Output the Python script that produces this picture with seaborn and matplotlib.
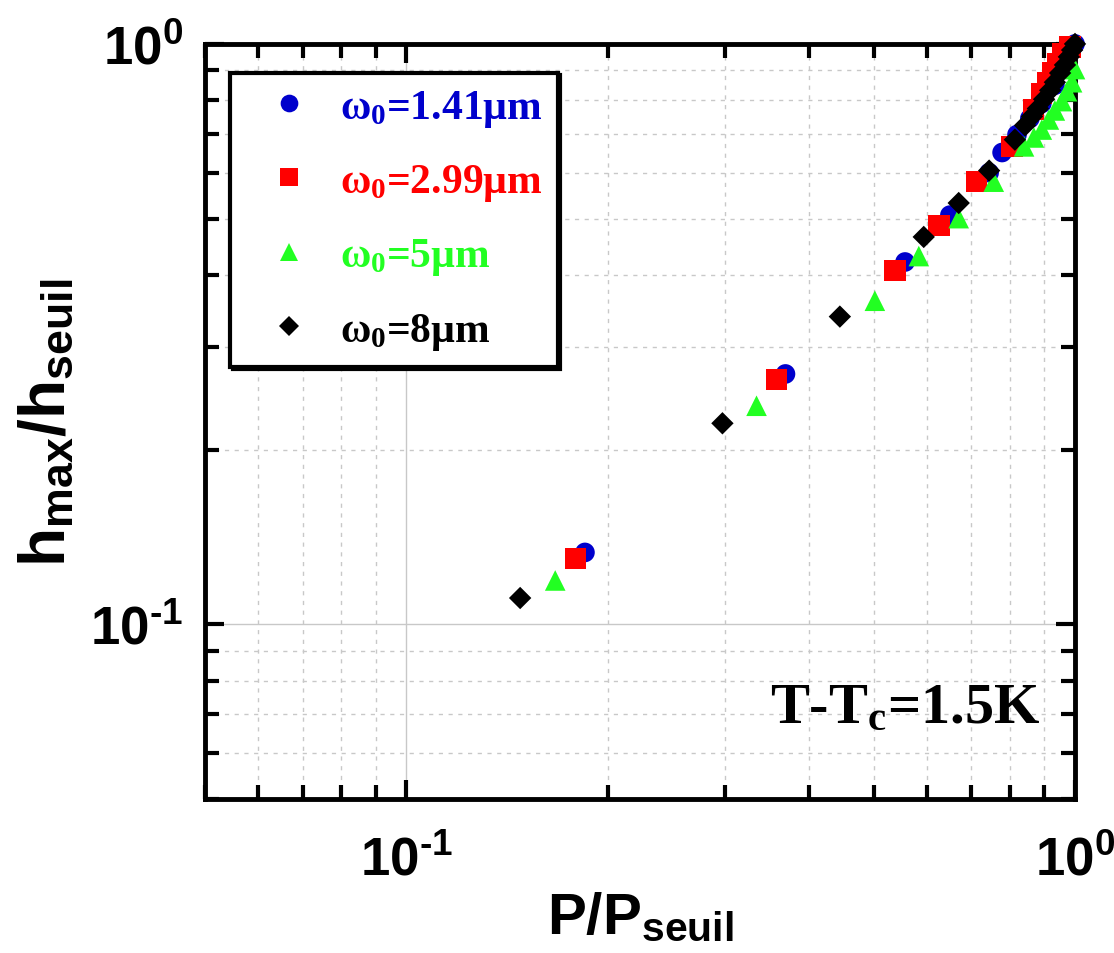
import numpy as np
import pandas as pd
import matplotlib
matplotlib.use('Agg')
import matplotlib.pyplot as plt
import matplotlib.ticker as mticker
from matplotlib import font_manager
import seaborn as sns

# values (P/P_seuil, h_max/h_seuil)
p_141 = [0.185, 0.369, 0.557, 0.650, 0.744, 0.778, 0.819, 0.856, 0.892, 0.933, 0.966, 1.0]
h_141 = [0.133, 0.270, 0.421, 0.507, 0.600, 0.650, 0.698, 0.744, 0.790, 0.849, 0.912, 1.0]

p_299 = [0.179, 0.358, 0.538, 0.626, 0.713, 0.805, 0.868, 0.892, 0.911, 0.927, 0.943, 0.959, 0.983]
h_299 = [0.130, 0.264, 0.407, 0.486, 0.579, 0.666, 0.772, 0.822, 0.859, 0.894, 0.927, 0.961, 0.988]

p_5 = [0.167, 0.334, 0.502, 0.584, 0.670, 0.756, 0.839, 0.868, 0.892, 0.914, 0.933, 0.956, 0.973, 0.990, 1.0]
h_5 = [0.119, 0.238, 0.361, 0.431, 0.501, 0.579, 0.666, 0.690, 0.712, 0.741, 0.768, 0.797, 0.829, 0.859, 0.905]

p_8 = [0.148, 0.297, 0.445, 0.594, 0.670, 0.744, 0.813, 0.842, 0.862, 0.880, 0.899, 0.918, 0.933, 0.950, 0.966, 0.979, 0.990, 1.0]
h_8 = [0.111, 0.222, 0.339, 0.465, 0.532, 0.605, 0.684, 0.724, 0.750, 0.774, 0.803, 0.832, 0.859, 0.891, 0.920, 0.950, 0.976, 1.0]

names = [r'$\mathrm{\omega_0}$=1.41µm', r'$\mathrm{\omega_0}$=2.99µm',
         r'$\mathrm{\omega_0}$=5µm', r'$\mathrm{\omega_0}$=8µm']
colors = ['#0000cc', '#ff0000', '#22ff22', '#000000']
marks = ['o', 's', '^', 'D']
msizes = [200, 230, 220, 130]

df = pd.concat([
    pd.DataFrame({'P': p, 'h': h, 'w': n})
    for p, h, n in zip([p_141, p_299, p_5, p_8], [h_141, h_299, h_5, h_8], names)
])

sns.set_theme(style='ticks')
installed = {f.name for f in font_manager.fontManager.ttflist}
sans = 'Liberation Sans Narrow' if 'Liberation Sans Narrow' in installed else 'Liberation Sans'
plt.rcParams['font.family'] = [sans, 'DejaVu Sans']
plt.rcParams['text.color'] = 'black'
plt.rcParams['axes.labelcolor'] = 'black'
plt.rcParams['mathtext.fontset'] = 'custom'
plt.rcParams['mathtext.rm'] = 'Liberation Serif:bold'
plt.rcParams['mathtext.it'] = 'Liberation Serif:bold'
plt.rcParams['mathtext.bf'] = 'Liberation Serif:bold'
plt.rcParams['mathtext.sf'] = sans + ':bold'
for a in ('xtick', 'ytick'):
    plt.rcParams[a + '.direction'] = 'in'
    plt.rcParams[a + '.major.size'] = 14
    plt.rcParams[a + '.minor.size'] = 10

fig = plt.figure(figsize=(11.14, 9.54), dpi=100)
ax = fig.add_axes([0.184, 0.1614, 0.781, 0.7915])

sns.scatterplot(data=df, x='P', y='h', hue='w', style='w', size='w',
                hue_order=names, style_order=names, size_order=names,
                palette=dict(zip(names, colors)), markers=dict(zip(names, marks)),
                sizes=dict(zip(names, msizes)), linewidth=0, clip_on=False,
                zorder=3, ax=ax)

ax.set_xscale('log')
ax.set_yscale('log')
ax.set_xlim(0.05, 1)
ax.set_ylim(0.05, 1)

def fmt(v, pos):
    e = int(round(np.log10(v)))
    return r'$\mathsf{10^{%s}}$' % (str(e).replace('-', '\u2010'))

for axis in (ax.xaxis, ax.yaxis):
    axis.set_major_locator(mticker.LogLocator(base=10, subs=(1.0,)))
    axis.set_minor_locator(mticker.LogLocator(base=10, subs=np.arange(2, 10)))
    axis.set_major_formatter(mticker.FuncFormatter(fmt))
    axis.set_minor_formatter(mticker.NullFormatter())
    axis.set_ticks_position('both')

ax.set_axisbelow(True)
ax.grid(which='major', color='#c8c8c8', lw=1, ls='-')
ax.grid(which='minor', color='#c8c8c8', lw=1, ls=(0, (3, 4)))

for sp in ax.spines.values():
    sp.set_linewidth(3.5)
    sp.set_color('black')
ax.tick_params(which='both', width=3, colors='black', labelsize=38)
ax.tick_params(axis='x', which='major', pad=26)
ax.tick_params(axis='y', which='major', pad=16)

ax.set_xlabel(r'P/P$_\mathsf{seuil}$', fontsize=42, fontweight='bold', labelpad=4)
ax.set_ylabel(r'h$_\mathsf{max}$/h$_\mathsf{seuil}$', fontsize=46, fontweight='bold', labelpad=8)

ax.text(0.96, 0.102, r'T-T$_\mathrm{c}$=1.5K', transform=ax.transAxes, ha='right',
        va='baseline', fontsize=42, fontfamily='Liberation Serif', fontweight='bold')

sns.move_legend(ax, 'upper left', bbox_to_anchor=(0.029, 0.962), title=None,
                frameon=True, fancybox=False, shadow={'color': 'black', 'alpha': 1},
                prop={'family': 'Liberation Serif', 'weight': 'bold', 'size': 30},
                markerscale=0.9, handlelength=2.1, handletextpad=0.17,
                borderpad=0.36, labelspacing=0.8, borderaxespad=0)
leg = ax.get_legend()
leg.get_frame().set_linewidth(3)
leg.get_frame().set_edgecolor('black')
for t, c in zip(leg.get_texts(), colors):
    t.set_color(c)

fig.savefig('out.png', dpi=100)
